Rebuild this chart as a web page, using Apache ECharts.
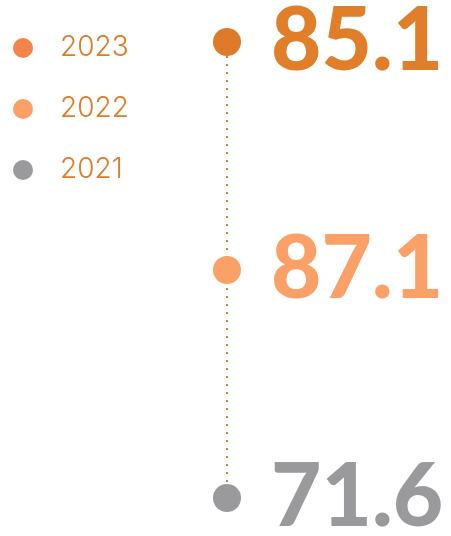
<!DOCTYPE html>
<html>
<head>
<meta charset="utf-8">
<script src="https://cdn.jsdelivr.net/npm/echarts@6/dist/echarts.min.js"></script>
<style>
  html, body { margin: 0; padding: 0; background: #fff; }
  #chart { width: 451px; height: 536px; }
</style>
</head>
<body>
<div id="chart"></div>
<script>
// years bottom to top on the timeline
const years = ['2021', '2022', '2023']
const values = [71.6, 87.1, 85.1]
const dotColors = ['#9a9a9c', '#fba066', '#dd7b2b']
const labelColors = ['#9a9a9c', '#fba066', '#e07e2a']
const legendColors = ['#9a9a9c', '#fda066', '#f5844c']

const chart = echarts.init(document.getElementById('chart'))

const pointSeries = years.map((y, i) => ({
  name: y,
  type: 'scatter',
  symbolSize: 28,
  data: [[0, y, values[i]]],
  itemStyle: { color: dotColors[i], opacity: 1 },
  label: {
    show: true,
    position: 'right',
    distance: 30,
    formatter: (p) => p.value[2].toFixed(1),
    color: labelColors[i],
    fontFamily: 'Lato',
    fontWeight: 900,
    fontSize: 87,
  },
  z: 3,
}))

chart.setOption({
  animation: false,
  legend: {
    orient: 'vertical',
    left: 13,
    top: 34,
    padding: 0,
    itemGap: 33,
    icon: 'circle',
    itemWidth: 20,
    itemHeight: 20,
    selectedMode: false,
    textStyle: {
      color: '#e07b28',
      fontSize: 28,
      lineHeight: 28,
      fontFamily: 'Inter',
      fontWeight: 300,
      padding: [0, 0, 0, 22],
    },
    data: years.slice().reverse().map((y) => ({
      name: y,
      itemStyle: { color: legendColors[years.indexOf(y)] },
    })),
  },
  grid: { left: 227, right: 24, top: 42, bottom: 38 },
  xAxis: { type: 'value', min: 0, max: 1, show: false },
  yAxis: { type: 'category', data: years, boundaryGap: false, show: false },
  series: [
    {
      name: 'timeline',
      type: 'line',
      data: years.map((y) => [0, y]),
      symbol: 'none',
      lineStyle: { color: '#e07b28', width: 2, type: [2, 6] },
      z: 1,
    },
    ...pointSeries,
  ],
})
</script>
</body>
</html>
